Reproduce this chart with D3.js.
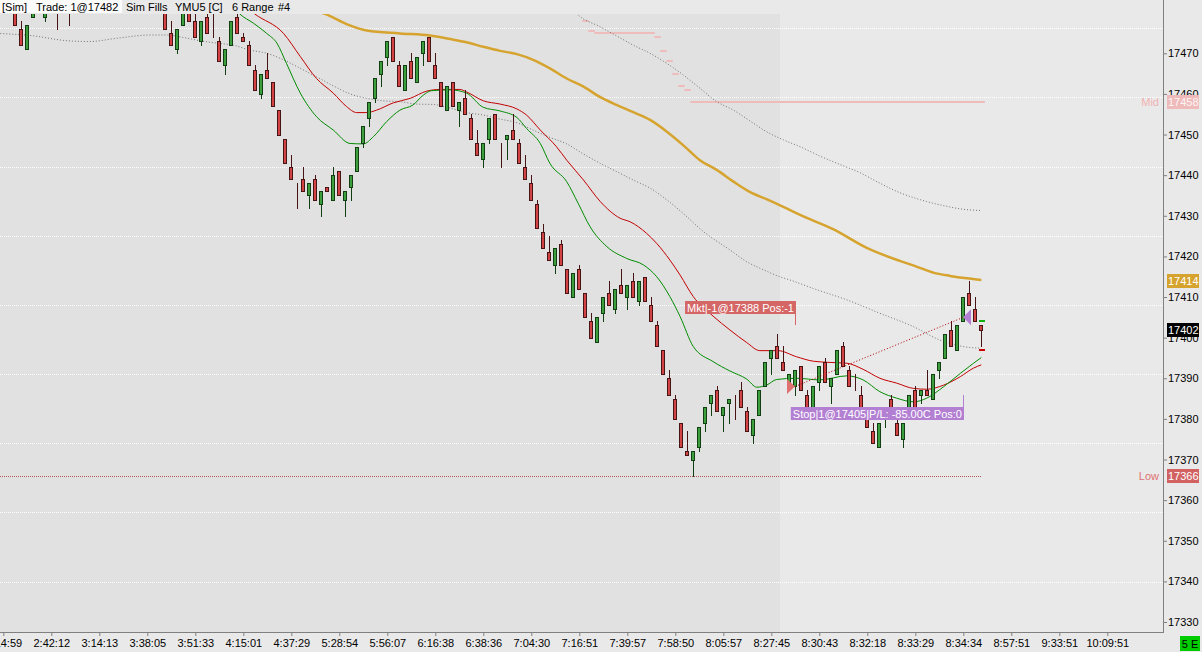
<!DOCTYPE html>
<html>
<head>
<meta charset="utf-8">
<script src="https://cdn.jsdelivr.net/npm/d3@7"></script>
<style>
  html, body { margin: 0; padding: 0; background: #e9e9e9; overflow: hidden; }
  svg { display: block; }
</style>
</head>
<body>
<div id="chart"></div>
<script>
// YMU5, 6 range bars. one entry per bar, null = bar sits above the visible window
const open = [
  null, null, 17481, 17476, 17471, 17479, null, 17479, null, 17484,
  null, 17484, null, null, null, null, null, null, null, null,
  null, null, null, null, null, null, null, 17481, 17475, 17471,
  17477, 17481, 17478, 17473, 17479, 17482, 17473, 17467, 17472, 17479,
  17474, 17472, 17466, 17460, 17466, 17463, 17456, 17449, 17442, 17438,
  17439, 17435, 17439, 17433, 17437, 17434, 17441, 17434, 17437, 17441,
  17448, 17454, 17459, 17465, 17469, 17474, 17467, 17461, 17468, 17463,
  17470, 17474, 17467, 17463, 17456, 17463, 17456, 17459, 17454, 17448,
  17444, 17449, 17455, 17448, 17449, 17451, 17448, 17442, 17438, 17433,
  17426, 17421, 17418, 17423, 17417, 17410, 17417, 17411, 17404, 17399,
  17406, 17411, 17407, 17413, 17410, 17414, 17409, 17415, 17408, 17403,
  17397, 17390, 17385, 17379, 17372, 17370, 17373, 17379, 17384, 17387,
  17381, 17384, 17386, 17387, 17382, 17376, 17381, 17388, 17395, 17398,
  17394, 17389, 17388, 17393, 17386, 17382, 17389, 17394, 17388, 17391,
  17398, 17392, 17387, 17386, 17381, 17377, 17373, 17381, 17385, 17379,
  17375, 17383, 17387, 17386, 17387, 17385, 17392, 17395, 17402, 17397,
  17404, 17411, 17407, 17403
];
const high = [
  null, null, 17481, 17478, 17477, 17484, null, 17484, null, 17484,
  null, 17484, null, null, null, null, null, null, null, null,
  null, null, null, null, null, null, null, 17481, 17478, 17476,
  17481, 17481, 17480, 17478, 17480, 17482, 17474, 17471, 17478, 17480,
  17475, 17473, 17467, 17465, 17470, 17463, 17456, 17449, 17445, 17438,
  17442, 17438, 17440, 17436, 17437, 17442, 17441, 17436, 17440, 17447,
  17452, 17458, 17464, 17468, 17473, 17474, 17468, 17467, 17470, 17469,
  17473, 17474, 17470, 17463, 17462, 17463, 17458, 17461, 17455, 17451,
  17448, 17454, 17455, 17448, 17450, 17455, 17449, 17445, 17440, 17434,
  17428, 17425, 17422, 17424, 17417, 17416, 17418, 17411, 17406, 17405,
  17410, 17414, 17412, 17417, 17413, 17416, 17414, 17415, 17410, 17404,
  17397, 17392, 17386, 17379, 17377, 17372, 17378, 17383, 17386, 17388,
  17383, 17385, 17386, 17389, 17383, 17380, 17387, 17394, 17397, 17401,
  17398, 17391, 17392, 17393, 17387, 17388, 17393, 17395, 17390, 17397,
  17399, 17393, 17391, 17388, 17382, 17379, 17379, 17382, 17386, 17380,
  17379, 17386, 17388, 17387, 17392, 17391, 17394, 17401, 17404, 17403,
  17410, 17414, 17410, 17403
];
const low = [
  null, null, 17477, 17472, 17471, 17479, null, 17478, null, 17476,
  null, 17477, null, null, null, null, null, null, null, null,
  null, null, null, null, null, null, null, 17476, 17472, 17470,
  17477, 17478, 17474, 17472, 17475, 17474, 17468, 17465, 17472, 17475,
  17473, 17467, 17461, 17459, 17464, 17457, 17450, 17443, 17439, 17432,
  17436, 17432, 17434, 17430, 17436, 17434, 17435, 17430, 17434, 17441,
  17447, 17452, 17458, 17462, 17467, 17468, 17462, 17461, 17464, 17463,
  17467, 17468, 17464, 17457, 17456, 17457, 17452, 17455, 17449, 17445,
  17442, 17448, 17449, 17442, 17444, 17449, 17443, 17439, 17434, 17427,
  17422, 17419, 17416, 17418, 17411, 17410, 17412, 17405, 17400, 17399,
  17404, 17408, 17406, 17411, 17407, 17410, 17408, 17409, 17404, 17398,
  17391, 17386, 17380, 17373, 17371, 17366, 17372, 17377, 17381, 17382,
  17377, 17379, 17380, 17383, 17377, 17374, 17381, 17388, 17391, 17395,
  17392, 17387, 17386, 17387, 17382, 17382, 17387, 17389, 17384, 17391,
  17393, 17388, 17387, 17382, 17378, 17374, 17373, 17378, 17382, 17376,
  17373, 17382, 17383, 17384, 17386, 17385, 17390, 17395, 17398, 17397,
  17404, 17408, 17404, 17398
];
const close = [
  null, null, 17477, 17472, 17477, 17484, null, 17484, null, 17481,
  null, 17481, null, null, null, null, null, null, null, null,
  null, null, null, null, null, null, null, 17476, 17472, 17476,
  17481, 17478, 17474, 17478, 17475, 17481, 17468, 17471, 17478, 17475,
  17473, 17467, 17461, 17465, 17464, 17457, 17450, 17443, 17439, 17438,
  17436, 17438, 17434, 17436, 17436, 17440, 17435, 17436, 17440, 17447,
  17452, 17458, 17464, 17468, 17473, 17468, 17462, 17467, 17464, 17469,
  17473, 17468, 17464, 17457, 17462, 17457, 17458, 17455, 17449, 17445,
  17448, 17454, 17449, 17448, 17450, 17449, 17443, 17439, 17434, 17427,
  17422, 17419, 17422, 17418, 17411, 17416, 17412, 17405, 17400, 17405,
  17410, 17408, 17412, 17411, 17413, 17410, 17414, 17409, 17404, 17398,
  17391, 17386, 17380, 17373, 17371, 17372, 17378, 17383, 17386, 17382,
  17383, 17385, 17386, 17383, 17377, 17380, 17387, 17394, 17397, 17395,
  17392, 17391, 17392, 17387, 17382, 17388, 17393, 17389, 17390, 17397,
  17393, 17388, 17387, 17382, 17378, 17374, 17379, 17382, 17382, 17376,
  17379, 17386, 17383, 17387, 17386, 17391, 17394, 17401, 17398, 17403,
  17410, 17408, 17404, 17402
];

// time axis: one label every 8 bars (the last three are projected)
const timeTicks = [0, 8, 16, 24, 32, 40, 48, 56, 64, 72, 80, 88, 96, 104, 112, 120, 128, 136, 144, 152, 160, 168, 176, 184];
const timeLabels = ['2:14:59', '2:42:12', '3:14:13', '3:38:05', '3:51:33', '4:15:01', '4:37:29', '5:28:54',
  '5:56:07', '6:16:38', '6:38:36', '7:04:30', '7:16:51', '7:39:57', '7:58:50', '8:05:57', '8:27:45',
  '8:30:43', '8:32:18', '8:33:29', '8:34:34', '8:57:51', '9:33:51', '10:09:51'];
const priceTicks = [17330, 17340, 17350, 17360, 17370, 17380, 17390, 17400, 17410, 17420, 17430, 17440, 17450, 17460, 17470];

// indicators, read as [bar, price]
const goldAvg = [[50, 17481], [53.6, 17479.7], [57.2, 17477.2], [60.6, 17475.6], [66.1, 17474.9], [71.1, 17474.4],
  [74.5, 17473.5], [77.2, 17472.7], [80, 17471.6], [82.8, 17470.6], [85.6, 17469.8], [88.3, 17468.4], [91.1, 17466.3],
  [93.9, 17463.8], [96.7, 17461.8], [99.5, 17459.2], [102.2, 17457.3], [105, 17455.5], [107.8, 17453.6],
  [110.6, 17450.7], [113.3, 17447.4], [116.1, 17443.7], [118.9, 17441.3], [121.7, 17438.4], [124.4, 17435.9],
  [127.2, 17434.1], [130, 17432.2], [132.8, 17430.2], [138.3, 17426.7], [143.9, 17422.1], [149.4, 17418.9],
  [152.2, 17417.5], [155, 17416], [157.8, 17415.2], [160.6, 17414.6], [163, 17414.2]];
const redAvg = [[40, 17482], [41.9, 17479.7], [46.7, 17474.9], [49.5, 17469.2], [52.2, 17463.8], [55, 17460.2],
  [57.2, 17456.9], [58.9, 17455.4], [60.6, 17455.4], [62.2, 17456], [65, 17457.8], [67.8, 17458.9], [70.6, 17460.7],
  [72.8, 17461.1], [76.1, 17461.1], [77.2, 17460.5], [80, 17458.3], [82.8, 17457.5], [85.6, 17456.3], [87.2, 17454.8],
  [89.5, 17451.1], [92.2, 17447], [93.9, 17443.7], [96.7, 17438.8], [99.5, 17433.5], [102.8, 17429.4],
  [104.5, 17428.5], [107.2, 17425.7], [108.9, 17423.2], [111.1, 17419.1], [112.8, 17415.4], [115, 17410.1],
  [118.3, 17405.3], [121.1, 17401.9], [123.9, 17398.8], [126.1, 17396.8], [129.1, 17396.8], [132.2, 17395.3],
  [135, 17394.2], [137.8, 17393.9], [140.6, 17393.7], [143.3, 17392.2], [146.1, 17390], [148.9, 17388.8],
  [151.7, 17387.5], [153.9, 17387.3], [156.7, 17388.3], [159.5, 17390.4], [161.7, 17392.5], [163, 17393.3]];
const greenAvg = [[38, 17482], [39.4, 17479.7], [41.7, 17477.4], [43.9, 17474.9], [45.6, 17472.5], [47.2, 17467.5],
  [49.5, 17460.2], [52.2, 17454.4], [55, 17451.1], [57.8, 17447.8], [60, 17447.7], [61.7, 17449.5], [63.9, 17453.2],
  [66.1, 17456], [68.3, 17457.3], [70, 17459.7], [71.4, 17460.8], [74.5, 17461], [77.2, 17460.2], [80, 17456.7],
  [82.8, 17455.8], [85.6, 17454.2], [87.2, 17451.5], [89.5, 17447.8], [91.1, 17442.9], [93.9, 17438.4],
  [95.8, 17433.1], [97.8, 17427.3], [100.6, 17422.4], [103.9, 17419.5], [106.7, 17417.9], [108.9, 17415],
  [111.1, 17410.1], [112.8, 17405.2], [115, 17397.8], [118.3, 17394.1], [121.1, 17391.8], [123.9, 17389.8],
  [125.6, 17387.8], [127.2, 17388.3], [128.9, 17389.7], [132.2, 17390], [136.1, 17389.6], [140.6, 17390.6],
  [143.3, 17389.6], [146.1, 17386.7], [148.9, 17385.1], [151.7, 17384.2], [153.9, 17385.1], [156.7, 17387.9],
  [159.5, 17391.2], [161.7, 17393.7], [163, 17395.1]];
const grayLong = [[-1, 17474.9], [5, 17474.3], [10.6, 17473.1], [14.4, 17472.9], [18.9, 17473.7], [24.5, 17474.5],
  [27.2, 17474.5], [30, 17473.9], [32.8, 17473.1], [35.6, 17472.5], [38.3, 17472], [41.1, 17470.8], [43.9, 17470],
  [46.7, 17468.4], [49.5, 17466.3], [52.2, 17464.2], [55, 17462], [57.8, 17460], [60.6, 17458.9], [63.3, 17458.3],
  [66.1, 17458.1], [68.9, 17457.5], [71.7, 17457.4], [74.5, 17456.5], [77.2, 17455.4], [80, 17454.8],
  [82.8, 17453.8], [85.6, 17452.9], [88.3, 17451.1], [91.1, 17449.3], [93.9, 17447.7], [96.7, 17445.2],
  [99.5, 17442.9], [102.2, 17440.9], [105, 17438.8], [107.8, 17436.8], [110.6, 17433.9], [113.3, 17430.6],
  [116.7, 17426.1], [121.1, 17421.6], [123.9, 17418.7], [126.7, 17416.7], [129.4, 17415], [131.1, 17414.2],
  [135, 17412.1], [140.6, 17409.3], [146.1, 17406], [151.7, 17402.7], [156.1, 17399.4], [160, 17397.8],
  [163, 17397.4]];
const grayShort = [[94.5, 17481.5], [95.6, 17479.7], [99.5, 17476.5], [102.2, 17474.3], [105, 17472], [107.8, 17470],
  [110.6, 17467.5], [113.3, 17464.7], [116.1, 17461.4], [118.9, 17458.1], [121.7, 17456], [124.4, 17453.4],
  [127.2, 17450.7], [130, 17448.7], [132.8, 17447], [136.1, 17444.7], [140, 17442.3], [142.8, 17440.6],
  [145.6, 17438.4], [149.4, 17435.7], [153.9, 17433.5], [156.7, 17432.5], [160, 17431.6], [163, 17431.3]];

// session mid, as steps [firstBar, lastBar, price]
const midSteps = [[97, 97, 17478], [98, 98, 17475.5], [99, 108, 17475], [109, 109, 17474], [110, 110, 17470.5],
  [111, 111, 17468], [112, 112, 17465], [113, 113, 17462], [114, 114, 17461], [115, 163, 17458]];

// the one trade: short entry, stopped out
const entryBar = 132, entryPrice = 17388;
const exitBar = 160, exitPrice = 17405;
const entryText = 'Mkt|-1@17388 Pos:-1';
const exitText = 'Stop|1@17405|P/L: -85.00C Pos:0';
const entryTag = [17403, 17406];  // connector from / to (box sits past "to")
const exitTag = [17386, 17383];

const nextBarUp = 17404, nextBarDown = 17397;
const shadeUntil = 129.5;

const W = 1202, H = 652;
const plot = { top: 14, right: 1163, bottom: 632 };
const gridTop = 28.3, gridStep = 69.15;
const FONT = "'Liberation Sans', Arial, sans-serif";

const lastBar = open.length - 1;
const x = d3.scaleLinear().domain([0, lastBar]).range([3.3, 981.3]);
const y = d3.scaleLinear().domain([17330, 17470]).range([622, 53.3]);
const snap = (v) => Math.round(v) + 0.5;

const svg = d3.select('#chart').append('svg')
  .attr('width', W)
  .attr('height', H)
  .style('font-family', FONT)
  .style('font-size', '11px');

svg.append('rect').attr('width', W).attr('height', H).attr('fill', '#e9e9e9');
svg.append('rect')
  .attr('x', 0).attr('y', plot.top)
  .attr('width', Math.round(x(shadeUntil)))
  .attr('height', plot.bottom - plot.top)
  .attr('fill', '#e1e1e1');

svg.append('defs').append('clipPath').attr('id', 'plot-clip')
  .append('rect')
  .attr('x', 0).attr('y', plot.top)
  .attr('width', plot.right).attr('height', plot.bottom - plot.top);

// horizontal grid (fixed pixel spacing, like the platform does)
svg.append('g').selectAll('line')
  .data(d3.range(9))
  .enter().append('line')
  .attr('x1', 0).attr('x2', plot.right)
  .attr('y1', (k) => snap(gridTop + k * gridStep))
  .attr('y2', (k) => snap(gridTop + k * gridStep))
  .attr('stroke', '#fff')
  .attr('stroke-dasharray', '1,1');

const plots = svg.append('g').attr('clip-path', 'url(#plot-clip)');

// session mid steps
plots.append('g').selectAll('line')
  .data(midSteps)
  .enter().append('line')
  .attr('x1', (d) => x(d[0]) - 3)
  .attr('x2', (d) => x(d[1]) + 3.5)
  .attr('y1', (d) => Math.round(y(d[2])))
  .attr('y2', (d) => Math.round(y(d[2])))
  .attr('stroke', '#efbcbc')
  .attr('stroke-width', 2);

// session low
const sessionLow = d3.min(low);
plots.append('line')
  .attr('x1', 0).attr('x2', x(lastBar) + 0.5)
  .attr('y1', snap(y(sessionLow))).attr('y2', snap(y(sessionLow)))
  .attr('stroke', '#b05858')
  .attr('stroke-dasharray', '1,1');

const line = d3.line()
  .x((d) => x(d[0]))
  .y((d) => y(d[1]))
  .curve(d3.curveMonotoneX);

[
  { data: grayLong, color: '#727272', width: 1, dash: '1,2' },
  { data: grayShort, color: '#727272', width: 1, dash: '1,2' },
  { data: goldAvg, color: '#d6a42e', width: 2.5 },
  { data: redAvg, color: '#c40000', width: 1 },
  { data: greenAvg, color: '#008c00', width: 1 },
].forEach((s) => {
  plots.append('path')
    .attr('d', line(s.data))
    .attr('fill', 'none')
    .attr('stroke', s.color)
    .attr('stroke-width', s.width)
    .attr('stroke-dasharray', s.dash || null);
});

// candles
const bars = d3.range(open.length)
  .filter((i) => open[i] !== null)
  .map((i) => ({ i, o: open[i], h: high[i], l: low[i], c: close[i] }));
const edge = (d) => (d.c > d.o ? '#123f12' : '#461414');

const candle = plots.append('g').selectAll('g')
  .data(bars)
  .enter().append('g');

candle.append('line')
  .attr('x1', (d) => snap(x(d.i)))
  .attr('x2', (d) => snap(x(d.i)))
  .attr('y1', (d) => Math.round(y(d.h)))
  .attr('y2', (d) => Math.round(y(d.l)) + 1)
  .attr('stroke', edge);

candle.append('rect')
  .attr('x', (d) => Math.round(x(d.i)) - 1.5)
  .attr('width', 3)
  .attr('y', (d) => snap(y(Math.max(d.o, d.c))))
  .attr('height', (d) => Math.round(y(Math.min(d.o, d.c))) - Math.round(y(Math.max(d.o, d.c))))
  .attr('fill', (d) => {
    if (d.c > d.o) return '#3c9e3c';
    if (d.c < d.o) return '#d24444';
    return 'none';
  })
  .attr('stroke', edge);

// next range-bar triggers
[[nextBarUp, '#10b010'], [nextBarDown, '#c80000']].forEach((m) => {
  plots.append('rect')
    .attr('x', Math.round(x(lastBar)) - 2)
    .attr('y', Math.round(y(m[0])) - 1)
    .attr('width', 6).attr('height', 2)
    .attr('fill', m[1]);
});

// trade
plots.append('line')
  .attr('x1', x(entryBar)).attr('y1', y(entryPrice))
  .attr('x2', x(exitBar)).attr('y2', y(exitPrice))
  .attr('stroke', '#b00000')
  .attr('stroke-dasharray', '1,2');

const ex = Math.round(x(entryBar)), ey = y(entryPrice);
plots.append('path')
  .attr('d', `M${ex - 8},${ey - 7.5}L${ex - 8},${ey + 7.5}L${ex},${ey}Z`)
  .attr('fill', '#e07272');
const qx = Math.round(x(exitBar)), qy = y(exitPrice);
plots.append('path')
  .attr('d', `M${qx + 8},${qy - 8}L${qx + 8},${qy + 8}L${qx},${qy}Z`)
  .attr('fill', '#b27fd2');

function tradeTag(bar, tag, text, fill) {
  const right = Math.round(x(bar)) + 0.5;
  const y0 = Math.round(y(tag[0]));
  const y1 = Math.round(y(tag[1]));
  const up = y1 < y0;
  const g = plots.append('g');
  g.append('line')
    .attr('x1', right).attr('x2', right)
    .attr('y1', y0).attr('y2', y1)
    .attr('stroke', fill);
  const box = g.append('rect').attr('fill', fill);
  const t = g.append('text')
    .attr('fill', '#fff')
    .attr('text-anchor', 'end')
    .attr('x', right - 1.5)
    .text(text);
  const w = t.node().getComputedTextLength() + 4;
  const top = up ? y1 - 12 : y1;
  box.attr('x', right - w + 0.5).attr('y', top).attr('width', w).attr('height', 13);
  t.attr('y', top + 10.5);
}
tradeTag(entryBar, entryTag, entryText, '#d46666');
tradeTag(exitBar, exitTag, exitText, '#b27fd2');

// header
svg.append('rect').attr('x', 0).attr('y', 0).attr('width', 122).attr('height', 13).attr('fill', '#fbfbfb');
[['[Sim]', 2], ['Trade: 1@17482', 36], ['Sim Fills', 126], ['YMU5 [C]', 175], ['6 Range', 232], ['#4', 278]]
  .forEach((h) => {
    svg.append('text').attr('x', h[1]).attr('y', 10.5).attr('fill', '#000').text(h[0]);
  });

// axes
const yAxis = svg.append('g')
  .attr('transform', `translate(${plot.right},0)`)
  .call(d3.axisRight(y).tickValues(priceTicks).tickSize(4).tickPadding(1).tickFormat(d3.format('d')));
const xAxis = svg.append('g')
  .attr('transform', `translate(0,${plot.bottom})`)
  .call(d3.axisBottom(x).tickValues(timeTicks).tickSize(4).tickPadding(3)
    .tickFormat((d, k) => timeLabels[k]));
[yAxis, xAxis].forEach((a) => {
  a.select('.domain').remove();
  a.attr('font-family', FONT).attr('font-size', 11);
  a.selectAll('line').attr('stroke', '#808080');
  a.selectAll('text').attr('fill', '#000');
});
svg.append('line')
  .attr('x1', plot.right + 0.5).attr('x2', plot.right + 0.5)
  .attr('y1', 0).attr('y2', plot.bottom + 1)
  .attr('stroke', '#808080');
svg.append('line')
  .attr('x1', 0).attr('x2', plot.right)
  .attr('y1', plot.bottom + 0.5).attr('y2', plot.bottom + 0.5)
  .attr('stroke', '#808080');

// price tags on the right scale
const lastGold = goldAvg[goldAvg.length - 1][1];
const tags = [
  { price: 17458, fill: '#efbaba', color: '#fff6f6', side: 'Mid', sideColor: '#f0b2b2' },
  { price: Math.round(lastGold), fill: '#d6a42e', color: '#fff' },
  { price: close[lastBar], fill: '#000', color: '#fff' },
  { price: sessionLow, fill: '#d26262', color: '#fff', side: 'Low', sideColor: '#e07272' },
];
tags.forEach((d) => {
  const cy = Math.round(y(d.price));
  svg.append('rect')
    .attr('x', plot.right + 4).attr('y', cy - 7)
    .attr('width', 32).attr('height', 14)
    .attr('fill', d.fill);
  svg.append('text')
    .attr('x', plot.right + 5).attr('y', cy + 4)
    .attr('fill', d.color)
    .text(d.price);
  if (d.side) {
    svg.append('text')
      .attr('x', 1159).attr('y', cy + 4)
      .attr('text-anchor', 'end')
      .attr('fill', d.sideColor)
      .text(d.side);
  }
});

// connection badge
svg.append('rect').attr('x', 1180).attr('y', 636).attr('width', 20).attr('height', 15).attr('fill', '#00cc00');
svg.append('text').attr('x', 1190).attr('y', 648).attr('text-anchor', 'middle').attr('fill', '#000').text('5 E');
</script>
</body>
</html>
